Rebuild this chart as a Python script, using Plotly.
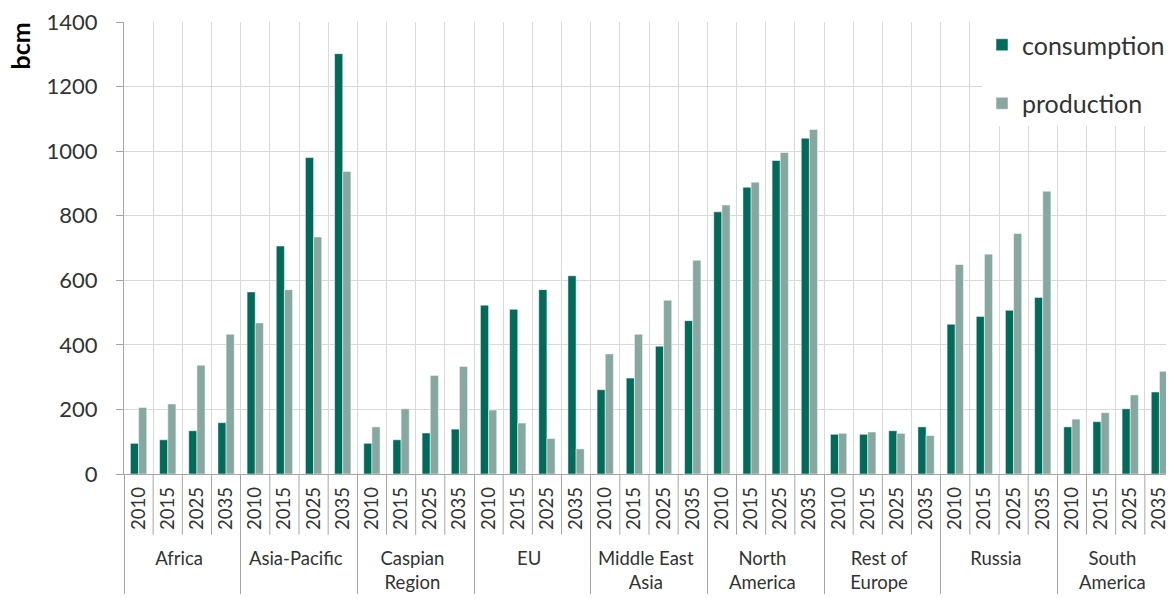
import plotly.graph_objects as go

regions = ["Africa", "Asia-Pacific", "Caspian<br>Region", "EU", "Middle East<br>Asia",
           "North<br>America", "Rest of<br>Europe", "Russia", "South<br>America"]
years = ["2010", "2015", "2025", "2035"]

consumption = [95, 106, 134, 159,
               564, 706, 980, 1302,
               95, 106, 127, 139,
               523, 510, 571, 614,
               261, 297, 396, 475,
               812, 888, 971, 1040,
               123, 123, 134, 146,
               464, 488, 507, 547,
               146, 162, 202, 254]
production = [206, 217, 337, 433,
              468, 571, 734, 937,
              146, 202, 305, 333,
              198, 158, 110, 78,
              372, 433, 538, 662,
              833, 904, 996, 1067,
              126, 130, 126, 119,
              649, 681, 745, 876,
              170, 190, 245, 318]

x_outer = [r for r in regions for _ in years]
# trailing no-break space keeps the rotated year labels a little away from the axis
x_inner = [y + "\u00a0" for _ in regions for y in years]

FONT = "Lato, Open Sans, sans-serif"
TXT = "#333333"
OFF = 8  # page body margin
W, H = 1174 - OFF, 599 - OFF
ML, MR, MT, MB = 124 - OFF, 0, 20 - OFF, 125
PW, PH = W - ML - MR, H - MT - MB

fig = go.Figure()
fig.add_trace(go.Bar(x=[x_outer, x_inner], y=consumption, name="consumption",
                     marker=dict(color="#006b5b", line=dict(color="#ffffff", width=0.5)),
                     legendgroup="c"))
fig.add_trace(go.Bar(x=[x_outer, x_inner], y=production, name="production",
                     marker=dict(color="#86a8a0", line=dict(color="#ffffff", width=0.5)),
                     legendgroup="p"))

n = len(x_inner)
shapes = []
for k in range(1, n):
    if k % len(years) != 0:
        shapes.append(dict(type="line", xref="paper", yref="paper",
                           x0=k / n, x1=k / n, y0=0, y1=-(61 / PH),
                           line=dict(color="#a6a6a6", width=1)))

fig.update_layout(
    width=W, height=H, autosize=False,
    margin=dict(l=ML, r=MR, t=MT, b=MB),
    plot_bgcolor="white", paper_bgcolor="white",
    barmode="group", bargap=0.44, bargroupgap=0,
    font=dict(family=FONT, color=TXT, size=16),
    shapes=shapes,
    legend=dict(x=(982 - OFF - ML) / PW, y=1 + 0 / PH, xanchor="left", yanchor="top",
                bgcolor="white", font=dict(size=25, color=TXT), tracegroupgap=23,
                itemwidth=30),
    annotations=[dict(text="<b>bcm</b>", textangle=-90, xref="paper", yref="paper",
                      x=-(104 / PW), y=1 + 1 / PH, xanchor="center", yanchor="top",
                      showarrow=False, font=dict(size=25, color="#000000"))],
)
fig.update_xaxes(
    type="multicategory", tickangle=-90, tickfont=dict(size=18.5, color=TXT),
    showgrid=True, gridcolor="#d9d9d9", gridwidth=1,
    showline=True, linecolor="#a6a6a6", linewidth=1,
    showdividers=True, dividercolor="#a6a6a6", dividerwidth=1,
    ticks="", range=[-0.5, n - 0.5],
)
fig.update_yaxes(
    range=[0, 1400], dtick=200, tickfont=dict(size=22, color=TXT),
    ticklabelstandoff=14, ticklabeloverflow="allow",
    showgrid=True, gridcolor="#d9d9d9", gridwidth=1,
    showline=True, linecolor="#a6a6a6", linewidth=1,
    ticks="outside", ticklen=7, tickcolor="#a6a6a6", zeroline=False,
)

fig.write_html("out.html")
